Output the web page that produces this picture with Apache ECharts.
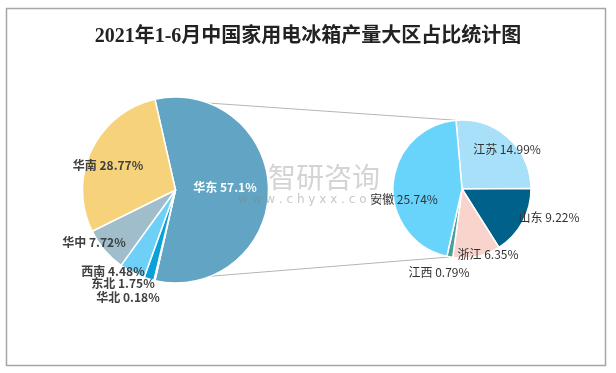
<!DOCTYPE html>
<html><head><meta charset="utf-8">
<script src="https://cdn.jsdelivr.net/npm/echarts@6/dist/echarts.min.js"></script>
<style>html,body{margin:0;padding:0;background:#fff}#c{width:616px;height:373px}</style>
</head><body><div id="c"></div>
<script>
const titleText = '2021年1-6月中国家用电冰箱产量大区占比统计图';
const regions = ['华东','华北','东北','西南','华中','华南'];
const regionShare = [57.1,0.18,1.75,4.48,7.72,28.77];
const provinces = ['江苏','山东','浙江','江西','安徽'];
const provinceShare = [14.99,9.22,6.35,0.79,25.74];

// styling / layout (not data)
const regionColors = ['#62a4c3','#1f6f95','#0aa0d8','#6ed0f6','#9fbdca','#f6d27b'];
const provinceColors = ['#a7e0f8','#00618a','#f8d4cc','#4a9f99','#68d4fb'];
const regionLabelPos = [[225,187],[128,297],[123,283],[113,271],[94,242],[108,165]];
const provinceLabelPos = [[507,149],[549,217],[488,254],[439,272],[404,199]];
const C1 = [175.5,190], R1 = 93;
const C2 = [462,189], R2 = 69;
const start1 = regionShare[0]*3.6/2;
const start2 = 95;

const chart = echarts.init(document.getElementById('c'));
function pt(c,r,deg){const a=deg*Math.PI/180;return [c[0]+r*Math.cos(a), c[1]-r*Math.sin(a)];}
const pA = pt(C1,R1,start1), pB = pt(C1,R1,-start1);
const qA = pt(C2,R2,start2), qB = pt(C2,R2,-100);

chart.setOption({
  animation:false,
  title:{text:titleText,left:'center',top:22,textStyle:{fontFamily:'Liberation Serif, "Noto Sans CJK SC"',fontSize:20,fontWeight:'bold',color:'#222'}},
  graphic:[
    {type:'rect',shape:{x:6.5,y:8.5,width:599,height:357},style:{fill:'none',stroke:'#a6a6a6',lineWidth:1.5},z:-10},
    {type:'line',shape:{x1:pA[0],y1:pA[1],x2:qA[0],y2:qA[1]},style:{stroke:'#b5b5b5',lineWidth:1},z:-5},
    {type:'line',shape:{x1:pB[0],y1:pB[1],x2:qB[0],y2:qB[1]},style:{stroke:'#b5b5b5',lineWidth:1},z:-5},
    {type:'text',left:268,top:163,z:100,style:{text:'智研咨询',fontSize:28,fontFamily:'"Noto Sans CJK SC"',fill:'rgba(170,170,170,0.5)'}},
    {type:'text',left:238,top:194,z:100,style:{text:'w w w . c h y x x . c o m',fontSize:12,fontFamily:'"DejaVu Sans"',fill:'rgba(130,130,130,0.45)'}}
  ],
  series:[
    {type:'pie',center:C1,radius:R1,startAngle:start1,clockwise:true,
     itemStyle:{borderColor:'#fff',borderWidth:1.5},
     label:{show:true,position:'inside',formatter:'{b} {c}%',fontSize:12,fontWeight:'bold',fontFamily:'"Noto Sans CJK SC"',color:'#404040'},
     labelLine:{show:false},
     labelLayout:p=>({x:regionLabelPos[p.dataIndex][0],y:regionLabelPos[p.dataIndex][1],align:'center',verticalAlign:'middle'}),
     data:regions.map((n,i)=>({name:n,value:regionShare[i],itemStyle:{color:regionColors[i]},label:i===0?{color:'#fff'}:{}}))
    },
    {type:'pie',center:C2,radius:R2,startAngle:start2,clockwise:true,
     itemStyle:{borderColor:'#fff',borderWidth:1.5},
     label:{show:true,position:'inside',formatter:'{b} {c}%',fontSize:12,fontFamily:'"Noto Sans CJK SC"',color:'#333'},
     labelLine:{show:false},
     labelLayout:p=>({x:provinceLabelPos[p.dataIndex][0],y:provinceLabelPos[p.dataIndex][1],align:'center',verticalAlign:'middle'}),
     data:provinces.map((n,i)=>({name:n,value:provinceShare[i],itemStyle:{color:provinceColors[i]}}))
    }
  ]
});
</script></body></html>
